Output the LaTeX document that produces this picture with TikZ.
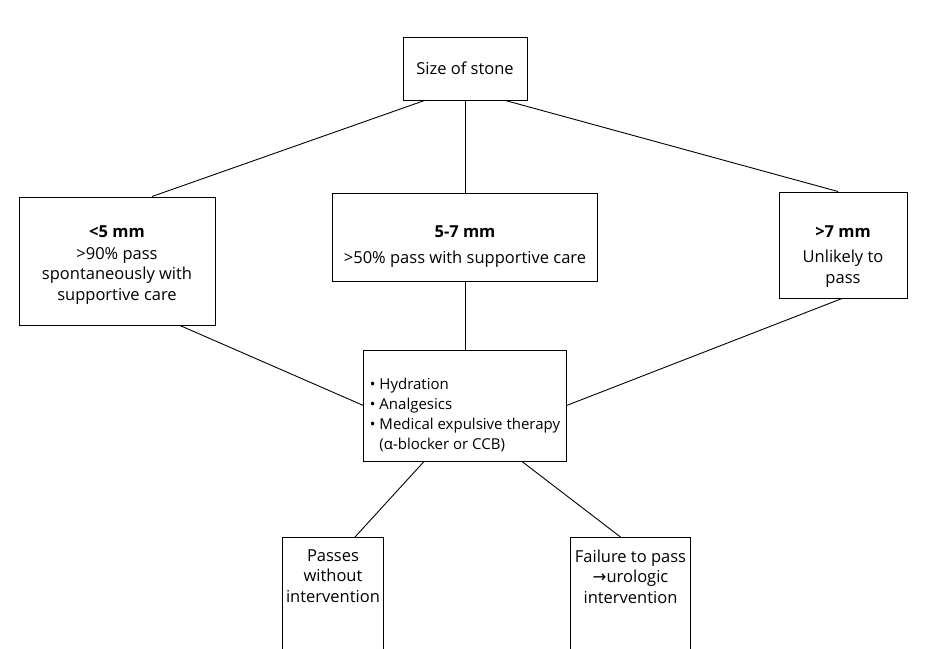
\documentclass[tikz,border=0pt]{standalone}
\usepackage{fontspec}
\setmainfont{Open Sans}
\newfontfamily\arrowfont{DejaVu Sans}
\usetikzlibrary{positioning}
\newcommand{\toppad}[1]{\rule{0pt}{#1}}

\begin{document}
\begin{tikzpicture}[x=1pt,y=-1pt,
  box/.style={draw,line width=1pt,align=center,inner sep=4pt,font=\fontsize{16.5}{20.5}\selectfont},
  tailbox/.style={box,anchor=north,text depth=70pt,inner ysep=12pt},
  link/.style={line width=0.9pt}]
  \clip (0,0) rectangle (925,648);
  \node[box,minimum width=124pt,minimum height=63pt] (size) at (465,68.5) {Size of stone};
  \node[box,minimum width=265pt,minimum height=88pt,below=92pt of size] (mid) {\toppad{31pt}\textbf{5-7 mm}\\[5pt] >50\% pass with supportive care};
  \node[box,minimum width=196pt,minimum height=128pt] (lt) at (117,261) {\toppad{20pt}\textbf{<5 mm}\\[1pt] >90\% pass\\ spontaneously with\\ supportive care};
  \node[box,minimum width=128pt,minimum height=106pt] (rt) at (843,245) {\toppad{34pt}\textbf{>7 mm}\\[5pt] Unlikely to\\ pass};
  \node[box,align=left,inner xsep=6pt,minimum width=196pt,minimum height=111pt,below=68pt of mid,
    font=\fontsize{15}{20}\selectfont] (ther) {\toppad{30pt}\textbullet{} Hydration\\ \textbullet{} Analgesics\\ \textbullet{} Medical expulsive therapy\\ \phantom{\textbullet{} }(α-blocker or CCB)};
  \node[tailbox,minimum width=98pt] (pass) at (333,537) {Passes\\ without\\ intervention};
  \node[tailbox,minimum width=115pt] (fail) at (630.5,537) {Failure to pass\\ {\arrowfont →}urologic\\ intervention};
  % top level
  \draw[link] ([xshift=22pt]size.south west) -- ([xshift=35pt]lt.north);
  \draw[link] (size.south) -- (mid.north);
  \draw[link] ([xshift=-22pt]size.south east) -- ([xshift=-5pt]rt.north);
  % into therapy
  \draw[link] ([xshift=63pt]lt.south) -- (ther.west);
  \draw[link] (mid.south) -- (ther.north);
  \draw[link] ([xshift=-1pt]rt.south) -- (ther.east);
  % outcomes
  \draw[link] ([xshift=-41pt]ther.south) -- ([xshift=22pt]pass.north);
  \draw[link] ([xshift=57pt]ther.south) -- ([xshift=-10pt]fail.north);
\end{tikzpicture}
\end{document}
